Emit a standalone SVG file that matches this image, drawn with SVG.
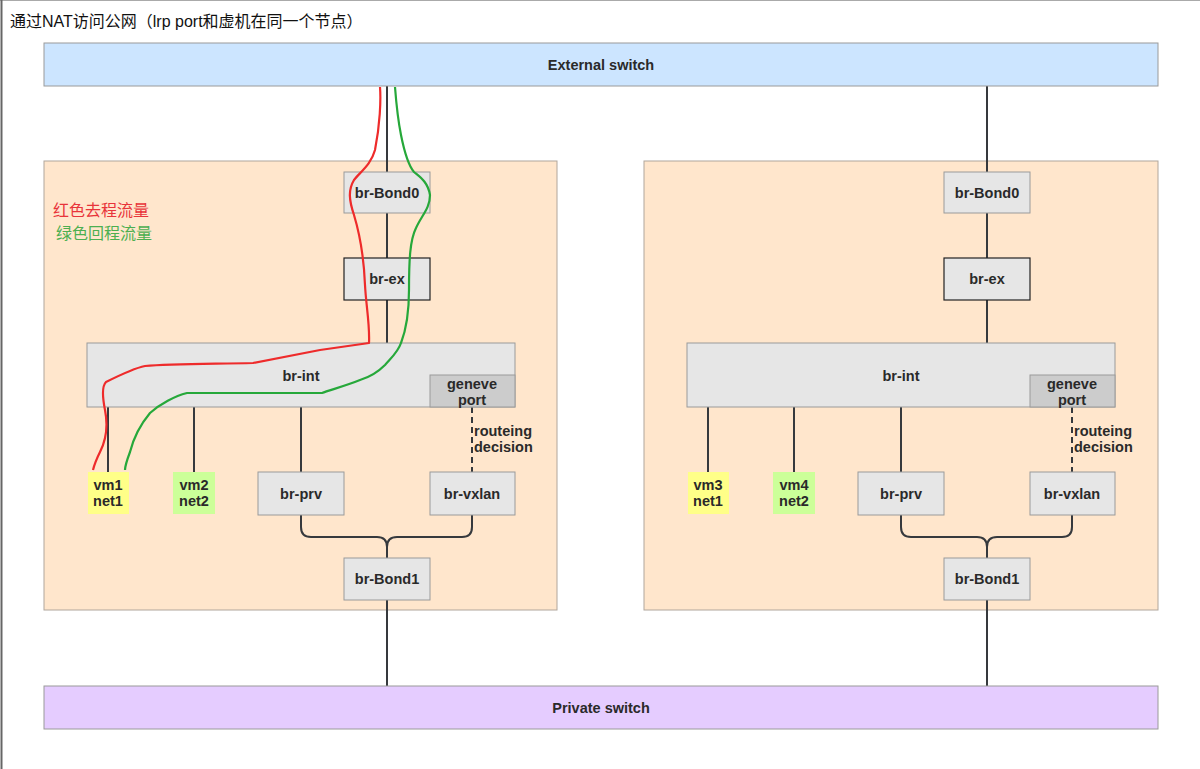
<svg xmlns="http://www.w3.org/2000/svg" width="1200" height="769" viewBox="0 0 1200 769">
<style>
.n{fill:#e6e6e6;stroke:#9a9a9a;stroke-width:1}
.nd{fill:#e6e6e6;stroke:#222;stroke-width:1.2}
.gp{fill:#cccccc;stroke:#9a9a9a;stroke-width:1}
.panel{fill:#ffe6cc;stroke:#b0a69c;stroke-width:1}
.t{font-family:"Liberation Sans",Arial,sans-serif;font-weight:bold;font-size:14.5px;fill:#2a2a2a;text-anchor:middle;dominant-baseline:central}
.tl{font-family:"Liberation Sans",Arial,sans-serif;font-weight:bold;font-size:14.5px;fill:#2a2a2a;dominant-baseline:central}
.c{fill:none;stroke:#36393d;stroke-width:2}
.d{fill:none;stroke:#36393d;stroke-width:2;stroke-dasharray:6 4}
.red{fill:none;stroke:#ee2b2b;stroke-width:2.2;stroke-linejoin:round}
.green{fill:none;stroke:#26a83a;stroke-width:2.2;stroke-linejoin:round}
</style>
<rect x="0" y="0" width="1200" height="769" fill="#ffffff"/>
<line x1="0" y1="0.5" x2="1200" y2="0.5" stroke="#aaa" stroke-width="1"/>
<line x1="1.5" y1="0" x2="1.5" y2="769" stroke="#666" stroke-width="2"/>
<text x="10" y="27" font-family="'Liberation Sans','Noto Sans CJK SC',sans-serif" font-size="16" fill="#111">通过NAT访问公网（lrp port和虚机在同一个节点）</text>

<g id="panel-left"><rect class="panel" x="44" y="161" width="513" height="449"/></g>
<g id="panel-right"><rect class="panel" x="644" y="161" width="514" height="449"/></g>

<g id="connectors">
<path class="c" d="M387 86V172M387 213V258M387 300V343M108 407V472M194 407V472M301 407V472"/>
<path class="d" d="M472 407V472"/>
<path class="c" d="M301 515V527Q301 537 311 537H377Q387 537 387 547V558M472 515V527Q472 537 462 537H397Q387 537 387 547"/>
<path class="c" d="M387 600V686"/>
<path class="c" d="M987 86V172M987 213V258M987 300V343M708 407V472M794 407V472M901 407V472"/>
<path class="d" d="M1072 407V472"/>
<path class="c" d="M901 515V527Q901 537 911 537H977Q987 537 987 547V558M1072 515V527Q1072 537 1062 537H997Q987 537 987 547"/>
<path class="c" d="M987 600V686"/>
</g>

<g id="external-switch"><rect x="44" y="43" width="1114" height="43" fill="#cce5ff" stroke="#9a9a9a"/><text class="t" x="601" y="65">External switch</text></g>
<g id="private-switch"><rect x="44" y="686" width="1114" height="43" fill="#e5ccff" stroke="#9a9a9a"/><text class="t" x="601" y="708">Private switch</text></g>

<g id="l-bond0"><rect class="n" x="344" y="172" width="86" height="41"/><text class="t" x="387" y="193">br-Bond0</text></g>
<g id="l-brex"><rect class="nd" x="344" y="258" width="86" height="42"/><text class="t" x="387" y="279">br-ex</text></g>
<g id="l-brint"><rect class="n" x="87" y="343" width="428" height="64"/><text class="t" x="301" y="376">br-int</text></g>
<g id="l-geneve"><rect class="gp" x="430" y="375" width="85" height="32"/><text class="t" x="472" y="384">geneve</text><text class="t" x="472" y="400">port</text></g>
<g id="l-vm1"><rect x="88" y="472" width="41" height="42" fill="#ffff88"/><text class="t" x="108" y="485">vm1</text><text class="t" x="108" y="501">net1</text></g>
<g id="l-vm2"><rect x="173" y="472" width="42" height="42" fill="#ccff99"/><text class="t" x="194" y="485">vm2</text><text class="t" x="194" y="501">net2</text></g>
<g id="l-brprv"><rect class="n" x="258" y="472" width="86" height="43"/><text class="t" x="301" y="494">br-prv</text></g>
<g id="l-brvxlan"><rect class="n" x="430" y="472" width="85" height="43"/><text class="t" x="472" y="494">br-vxlan</text></g>
<g id="l-bond1"><rect class="n" x="344" y="558" width="86" height="42"/><text class="t" x="387" y="579">br-Bond1</text></g>
<g id="l-routing"><text class="tl" x="474" y="431">routeing</text><text class="tl" x="474" y="447">decision</text></g>

<g id="r-bond0"><rect class="n" x="944" y="172" width="86" height="41"/><text class="t" x="987" y="193">br-Bond0</text></g>
<g id="r-brex"><rect class="nd" x="944" y="258" width="86" height="42"/><text class="t" x="987" y="279">br-ex</text></g>
<g id="r-brint"><rect class="n" x="687" y="343" width="428" height="64"/><text class="t" x="901" y="376">br-int</text></g>
<g id="r-geneve"><rect class="gp" x="1030" y="375" width="85" height="32"/><text class="t" x="1072" y="384">geneve</text><text class="t" x="1072" y="400">port</text></g>
<g id="r-vm3"><rect x="688" y="472" width="41" height="42" fill="#ffff88"/><text class="t" x="708" y="485">vm3</text><text class="t" x="708" y="501">net1</text></g>
<g id="r-vm4"><rect x="773" y="472" width="42" height="42" fill="#ccff99"/><text class="t" x="794" y="485">vm4</text><text class="t" x="794" y="501">net2</text></g>
<g id="r-brprv"><rect class="n" x="858" y="472" width="86" height="43"/><text class="t" x="901" y="494">br-prv</text></g>
<g id="r-brvxlan"><rect class="n" x="1030" y="472" width="85" height="43"/><text class="t" x="1072" y="494">br-vxlan</text></g>
<g id="r-bond1"><rect class="n" x="944" y="558" width="86" height="42"/><text class="t" x="987" y="579">br-Bond1</text></g>
<g id="r-routing"><text class="tl" x="1074" y="431">routeing</text><text class="tl" x="1074" y="447">decision</text></g>

<g id="flows">
<path class="red" d="M380 87C381 100 380 125 375 150C371 165 360 172 354 180C348 190 349 200 354 215C360 235 364 260 365 285C366 305 370 325 369 343L320 350L253 363C210 364 170 364 145 366C135 368 118 376 106 382C102 386 102 395 105 410C108 425 106 440 100 452C96 460 94 466 93 470"/>
<path class="green" d="M395 87C396 100 398 120 401 135C404 150 408 165 414 172C420 177 428 182 430 195C430 208 422 215 416 228C410 240 409 260 409 290C409 310 406 330 401 343C398 352 392 357 385 365C378 372 370 377 360 380C345 386 330 390 322 393L187 393C175 396 160 404 150 413C140 425 133 440 130 452C127 460 125 466 125 470"/>
</g>

<g id="legend">
<text x="53" y="216" font-family="'Liberation Sans','Noto Sans CJK SC',sans-serif" font-size="16" fill="#e8343a">红色去程流量</text>
<text x="56" y="239" font-family="'Liberation Sans','Noto Sans CJK SC',sans-serif" font-size="16" fill="#4caf50">绿色回程流量</text>
</g>
</svg>
